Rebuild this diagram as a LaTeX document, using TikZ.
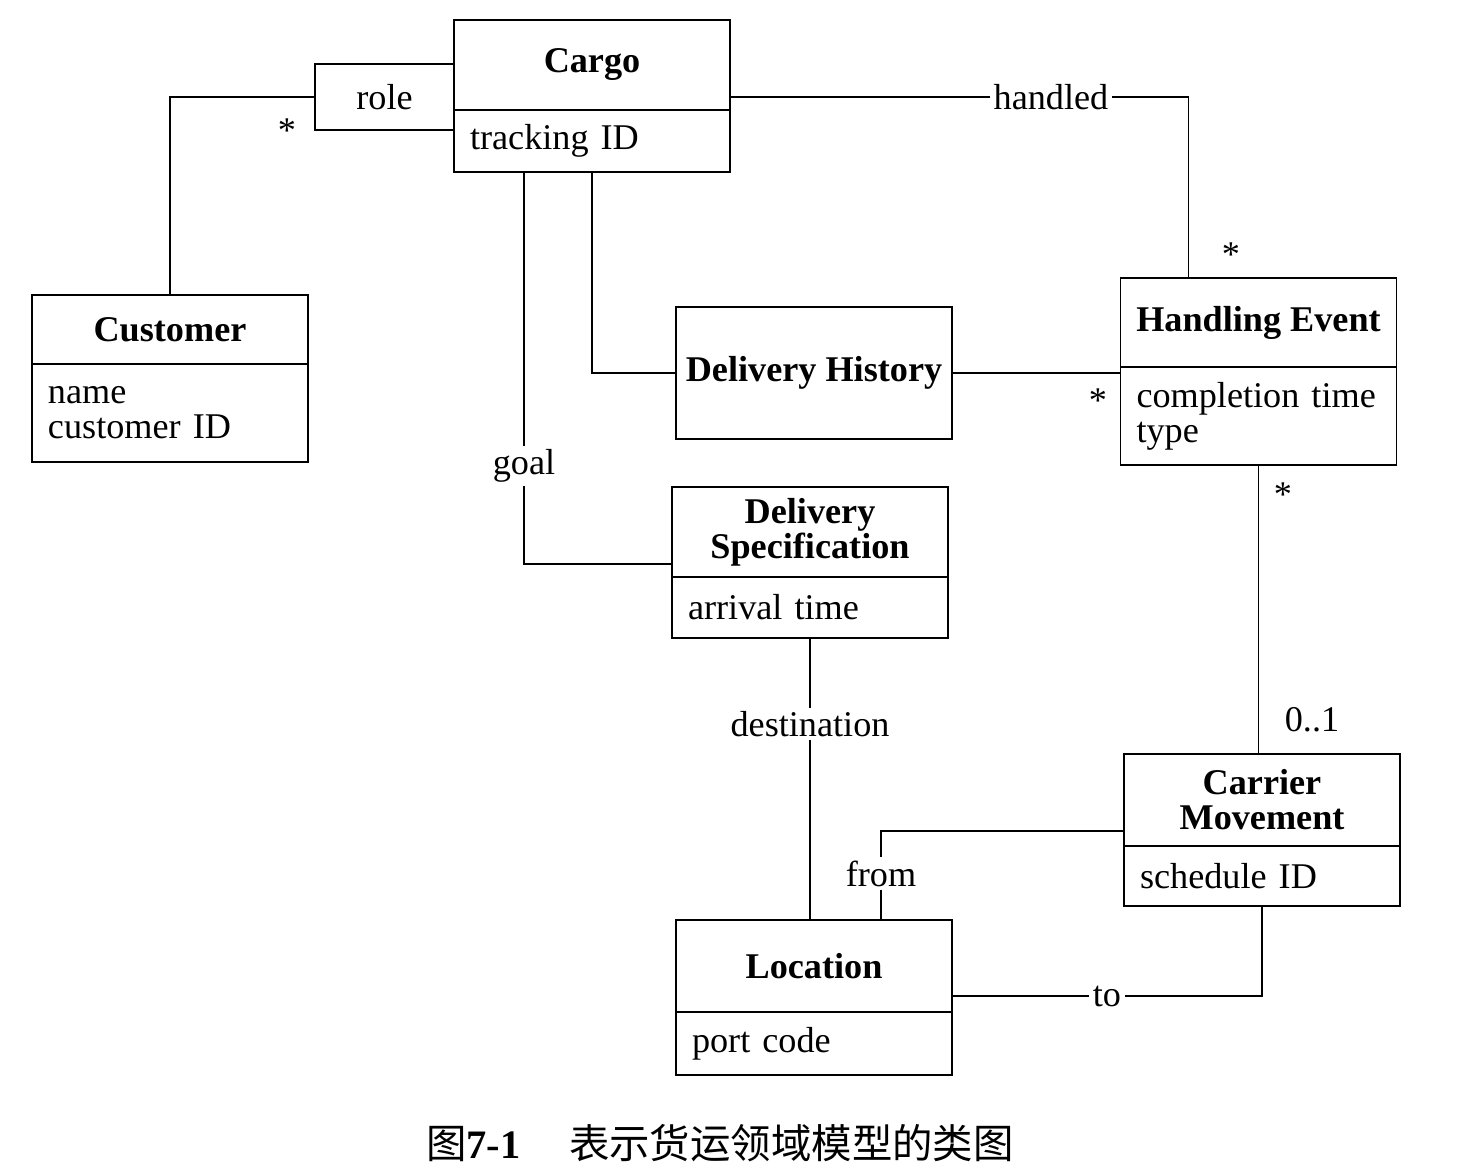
\documentclass[tikz,border=0pt]{standalone}
\usepackage{fontspec}
\setmainfont{Liberation Serif}
\newfontfamily\cjk{Noto Sans CJK SC}
\usetikzlibrary{positioning,calc}
\begin{document}
\begin{tikzpicture}[line width=0.5pt,font=\fontsize{10.3}{10}\selectfont,
  hdr/.style={draw,minimum width=2.76cm,align=center,inner sep=0pt,outer sep=0pt,font=\fontsize{10.3}{10}\selectfont\bfseries},
  attr/.style={draw,minimum width=2.76cm,text width=2.44cm,inner xsep=0.16cm,inner ysep=0pt,outer sep=0pt,align=left},
  lbl/.style={fill=white,inner sep=1pt},
  mult/.style={inner sep=0pt}]
\useasboundingbox (0,0) rectangle (14.72,-11.70);

\node[hdr,minimum height=0.90cm] (cargo) at (5.92,-0.65) {Cargo};
\node[attr,below=0pt of cargo,minimum height=0.62cm] (cargoA) {tracking ID};
\node[draw,minimum width=1.39cm,minimum height=0.66cm,inner sep=0pt,outer sep=0pt] (role) at (3.845,-0.97) {role};

\node[hdr,minimum height=0.69cm] (cust) at (1.70,-3.295) {Customer};
\node[attr,below=0pt of cust,minimum height=0.98cm] (custA) {name\\customer ID};

\node[hdr,minimum height=0.89cm] (hevent) at (12.585,-3.225) {Handling Event};
\node[attr,below=0pt of hevent,minimum height=0.98cm] (heventA) {completion time\\type};

\node[hdr,minimum height=1.32cm] (dhist) at (8.14,-3.73) {Delivery History};

\node[hdr,minimum height=0.90cm] (dspec) at (8.10,-5.32) {Delivery\\Specification};
\node[attr,below=0pt of dspec,minimum height=0.61cm] (dspecA) {arrival time};

\node[hdr,minimum height=0.92cm] (cmove) at (12.62,-8.00) {Carrier\\Movement};
\node[attr,below=0pt of cmove,minimum height=0.60cm] (cmoveA) {schedule ID};

\node[hdr,minimum height=0.92cm] (loc) at (8.14,-9.66) {Location};
\node[attr,below=0pt of loc,minimum height=0.63cm] (locA) {port code};

\draw (role.west) -| (cust.north);
\node[mult] (m1) at (2.87,-1.31) {*};

\draw (role -| cargo.east) -| ($(hevent.north west)+(0.68,0)$)
  node[lbl,pos=0.35] (handled) {handled};
\node[mult] (m2) at (12.31,-2.55) {*};

\draw (cargoA.south) |- (dhist.west);
\draw (dhist.east) -- (dhist.east -| hevent.west);
\node[mult] (m3) at (10.98,-4.01) {*};

\draw ($(cargoA.south)+(-0.68,0)$) |- ($(dspec.south west)+(0,0.13)$)
  node[lbl,pos=0.375] (goal) {goal};

\draw (dspecA.south) -- (dspecA.south |- loc.north)
  node[lbl,pos=0.305] (dest) {destination};

\draw (heventA.south) -- (heventA.south |- cmove.north);
\node[mult] (m4) at (12.83,-4.95) {*};
\node[mult] (m5) at (13.12,-7.20) {0..1};

\draw ($(cmove.south west)+(0,0.15)$) -| ($(loc.north)+(0.67,0)$)
  node[lbl,pos=0.74] (from) {from};

\draw ($(loc.south east)+(0,0.16)$) -| (cmoveA.south)
  node[lbl,pos=0.25] (to) {to};

\node (cap) at (7.20,-11.43) {\fontsize{11.5}{12}\selectfont{\cjk 图}\textbf{7-1}\hspace{1.2em}{\cjk 表示货运领域模型的类图}};
\end{tikzpicture}
\end{document}
